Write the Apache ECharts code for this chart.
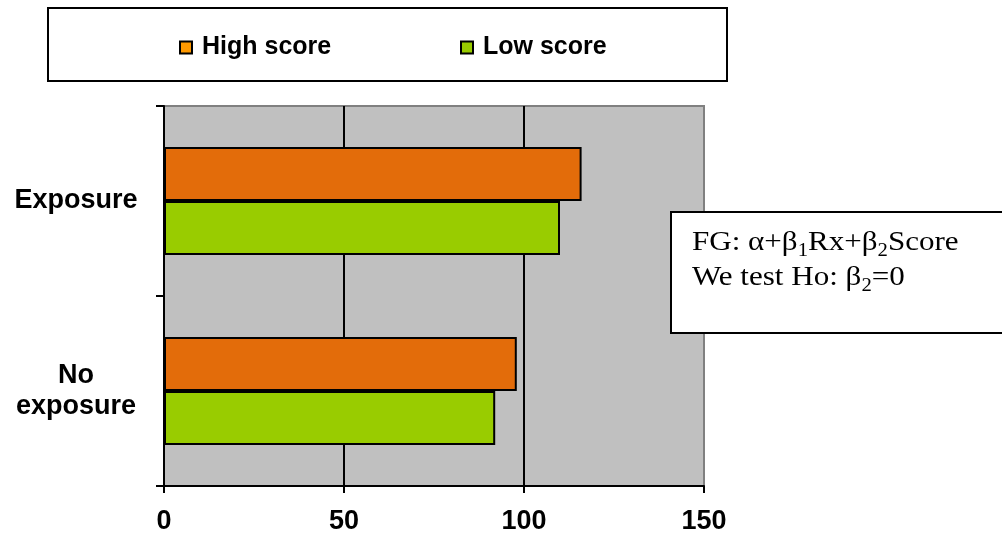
<!DOCTYPE html>
<html>
<head>
<meta charset="utf-8">
<script src="https://cdn.jsdelivr.net/npm/echarts@6/dist/echarts.min.js"></script>
<style>
  html, body { margin: 0; padding: 0; background: #fff; }
  #chart { width: 1002px; height: 538px; }
</style>
</head>
<body>
<div id="chart"></div>
<script>
// Category labels (top to bottom) and the two score groups
const categories = ['Exposure', 'No\nexposure'];
const highScore = [116, 98];
const lowScore = [110, 92];
const xTickValues = [0, 50, 100, 150];

const chart = echarts.init(document.getElementById('chart'), null, { renderer: 'canvas' });

const sansBold = { fontFamily: 'Liberation Sans', fontWeight: 'bold', color: '#000' };

const option = {
  animation: false,
  backgroundColor: '#fff',
  grid: {
    left: 164, right: 298, top: 106, bottom: 52,
    show: true,
    backgroundColor: '#C0C0C0',
    borderColor: '#808080',
    borderWidth: 2
  },
  legend: [
    {
      data: ['High score'],
      left: 179, top: 35, padding: 0,
      icon: 'rect', itemWidth: 12, itemHeight: 12,
      itemStyle: { color: '#FF9900', borderColor: '#000', borderWidth: 2 },
      textStyle: Object.assign({ fontSize: 25, padding: [0, 0, 0, 5] }, sansBold)
    },
    {
      data: ['Low score'],
      left: 460, top: 35, padding: 0,
      icon: 'rect', itemWidth: 12, itemHeight: 12,
      itemStyle: { color: '#99CC00', borderColor: '#000', borderWidth: 2 },
      textStyle: Object.assign({ fontSize: 25, padding: [0, 0, 0, 5] }, sansBold)
    }
  ],
  xAxis: {
    type: 'value',
    min: xTickValues[0],
    max: xTickValues[xTickValues.length - 1],
    interval: xTickValues[1] - xTickValues[0],
    axisLine: { show: true, lineStyle: { color: '#000', width: 2 } },
    axisTick: { show: true, length: 7, lineStyle: { color: '#000', width: 2 } },
    axisLabel: Object.assign({ fontSize: 27, margin: 22 }, sansBold),
    splitLine: {
      show: true, showMinLine: false, showMaxLine: false,
      lineStyle: { color: '#000', width: 2 }
    }
  },
  yAxis: {
    type: 'category',
    data: categories,
    inverse: true,
    axisLine: { show: true, lineStyle: { color: '#000', width: 2 } },
    axisTick: { show: true, length: 8, lineStyle: { color: '#000', width: 2 } },
    axisLabel: Object.assign({ fontSize: 27, align: 'center', margin: 88, lineHeight: 31, padding: [5, 0, 0, 0] }, sansBold),
    splitLine: { show: false }
  },
  series: [
    {
      name: 'High score',
      type: 'bar',
      data: highScore,
      barWidth: 54,
      barGap: '0%',
      itemStyle: { color: '#E36C0A', borderColor: '#000', borderWidth: 2 }
    },
    {
      name: 'Low score',
      type: 'bar',
      data: lowScore,
      barWidth: 54,
      barGap: '0%',
      itemStyle: { color: '#99CC00', borderColor: '#000', borderWidth: 2 }
    }
  ],
  graphic: [
    {
      type: 'rect',
      z: -1,
      shape: { x: 48, y: 8, width: 679, height: 73 },
      style: { fill: '#fff', stroke: '#000', lineWidth: 2 }
    },
    {
      type: 'group',
      z: 100,
      children: [
        {
          type: 'rect',
          shape: { x: 671, y: 212, width: 340, height: 121 },
          style: { fill: '#fff', stroke: '#000', lineWidth: 2 }
        },
        {
          type: 'text',
          x: 692, y: 225,
          scaleX: 1.15,
          style: {
            text: '{m|FG: α+β}{s|1}{m|Rx+β}{s|2}{m|Score}\n{m|We test Ho: β}{s|2}{m|=0}',
            fill: '#000',
            fontFamily: 'Liberation Serif',
            fontSize: 27,
            lineHeight: 35,
            verticalAlign: 'top',
            rich: {
              m: { fontFamily: 'Liberation Serif', fontSize: 27, lineHeight: 35, fill: '#000' },
              s: { fontFamily: 'Liberation Serif', fontSize: 18, lineHeight: 24, verticalAlign: 'bottom', fill: '#000' }
            }
          }
        }
      ]
    }
  ]
};

chart.setOption(option);
</script>
</body>
</html>
